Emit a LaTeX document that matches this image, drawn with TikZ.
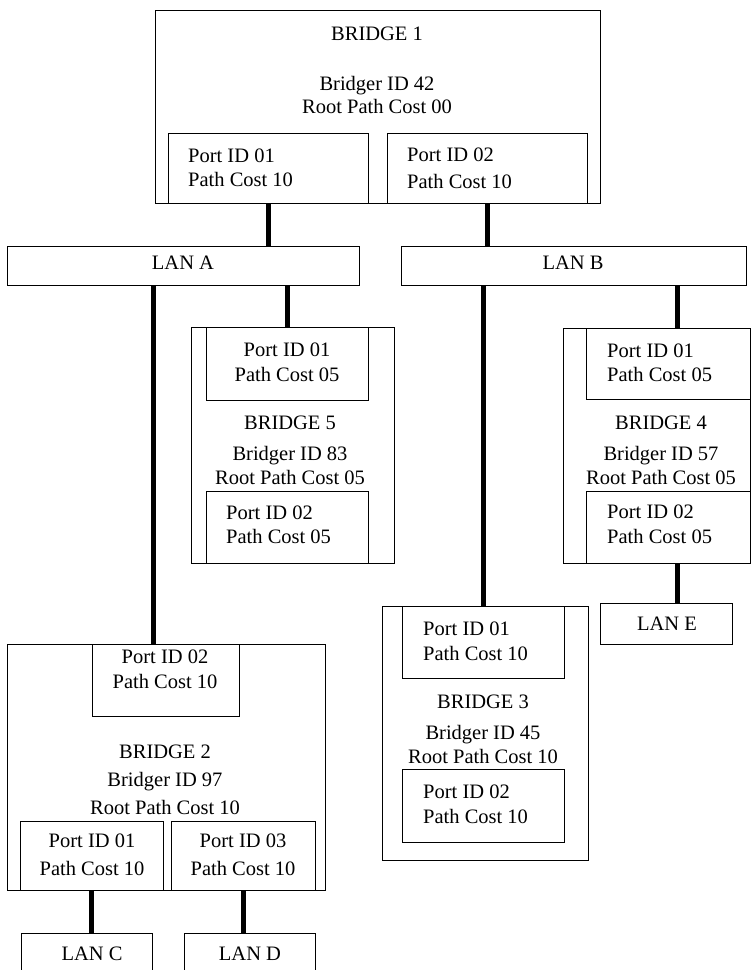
\documentclass[tikz,border=0pt]{standalone}
\usepackage{fontspec}
\setmainfont{Liberation Serif}
\tikzset{
  unit/.style={draw, line width=1pt, inner sep=0pt},
  txt/.style={inner sep=0pt, font=\fontsize{20.5}{24.5}\selectfont},
  link/.style={line width=5pt},
}

\begin{document}
\begin{tikzpicture}[x=1pt, y=-1pt]
    \useasboundingbox (0,0) rectangle (753,970);
    % bridge 1
    \node[unit, minimum width=445pt, minimum height=193pt] (br1) at (377.5,106.5) {};
    \node[unit, minimum width=200pt, minimum height=70pt] (b1p1) at (268,168) {};
    \node[unit, minimum width=200pt, minimum height=70pt] (b1p2) at (487,168) {};
    \node[txt] (br1name) at (377,34) {BRIDGE 1};
    \node[txt, align=center] (br1info) at (377,94.5) {Bridger ID 42\\[-1.5pt]Root Path Cost 00};
    \node[txt, align=left, anchor=west] at (188,168) {Port ID 01\\Path Cost 10};
    \node[txt, align=left, anchor=west] at (407,168.5) {Port ID 02\\[2pt]Path Cost 10};
    % lans
    \node[unit, minimum width=352pt, minimum height=39pt] (lanA) at (183,265.5) {};
    \node[unit, minimum width=345pt, minimum height=39pt] (lanB) at (573.5,265.5) {};
    \node[unit, minimum width=132pt, minimum height=41pt] (lanE) at (666,623.5) {};
    \node[unit, minimum width=131pt, minimum height=41pt] (lanC) at (86.5,953.5) {};
    \node[unit, minimum width=131pt, minimum height=41pt] (lanD) at (249.5,953.5) {};
    \node[txt] at (183,263) {LAN A};
    \node[txt] at (573,263) {LAN B};
    \node[txt] at (667,624) {LAN E};
    \node[txt] at (92,954) {LAN C};
    \node[txt] at (250,954) {LAN D};
    % bridge 5
    \node[unit, minimum width=203pt, minimum height=236pt] (br5) at (292.5,445) {};
    \node[unit, minimum width=162pt, minimum height=73pt] (b5p1) at (287,363.5) {};
    \node[unit, minimum width=162pt, minimum height=72pt] (b5p2) at (287,527) {};
    \node[txt, align=center] at (287,362.5) {Port ID 01\\Path Cost 05};
    \node[txt, align=center] at (290,450.5) {BRIDGE 5\\[6pt]Bridger ID 83\\Root Path Cost 05};
    \node[txt, align=left, anchor=west] at (226,525) {Port ID 02\\Path Cost 05};
    % bridge 4
    \node[unit, minimum width=187pt, minimum height=235pt] (br4) at (656.5,445.5) {};
    \node[unit, minimum width=164pt, minimum height=71pt] (b4p1) at (668,363.5) {};
    \node[unit, minimum width=164pt, minimum height=72pt] (b4p2) at (668,527) {};
    \node[txt, align=left, anchor=west] at (607,363) {Port ID 01\\Path Cost 05};
    \node[txt, align=center] at (661,450.5) {BRIDGE 4\\[6.5pt]Bridger ID 57\\Root Path Cost 05};
    \node[txt, align=left, anchor=west] at (607,524.5) {Port ID 02\\Path Cost 05};
    % bridge 3
    \node[unit, minimum width=206pt, minimum height=254pt] (br3) at (485,733) {};
    \node[unit, minimum width=162pt, minimum height=72pt] (b3p1) at (483,642) {};
    \node[unit, minimum width=162pt, minimum height=73pt] (b3p2) at (483,805.5) {};
    \node[txt, align=left, anchor=west] at (423,641.5) {Port ID 01\\Path Cost 10};
    \node[txt, align=center] at (483,729.5) {BRIDGE 3\\[6.5pt]Bridger ID 45\\Root Path Cost 10};
    \node[txt, align=left, anchor=west] at (423,804.5) {Port ID 02\\Path Cost 10};
    % bridge 2
    \node[unit, minimum width=318pt, minimum height=246pt] (br2) at (166,767) {};
    \node[unit, minimum width=147pt, minimum height=72pt] (b2p2) at (165.5,680) {};
    \node[unit, minimum width=143pt, minimum height=69pt] (b2p1) at (91.5,855.5) {};
    \node[unit, minimum width=144pt, minimum height=69pt] (b2p3) at (243,855.5) {};
    \node[txt, align=center] at (165,669.5) {Port ID 02\\Path Cost 10};
    \node[txt, align=center] at (165,780) {BRIDGE 2\\[3.5pt]Bridger ID 97\\[3.5pt]Root Path Cost 10};
    \node[txt, align=center] at (92,855) {Port ID 01\\[3.5pt]Path Cost 10};
    \node[txt, align=center] at (243,855) {Port ID 03\\[3.5pt]Path Cost 10};
    % links
    \coordinate (b2in) at ([xshift=-12.5pt]b2p2.north);
    \coordinate (b4in) at ([xshift=9pt]b4p1.north);
    \coordinate (b4out) at ([xshift=9pt]b4p2.south);
    \draw[link] (b1p1.south) -- (b1p1.south |- lanA.north);
    \draw[link] (b1p2.south) -- (b1p2.south |- lanB.north);
    \draw[link] (b5p1.north |- lanA.south) -- (b5p1.north);
    \draw[link] (b2in |- lanA.south) -- (b2in);
    \draw[link] (b3p1.north |- lanB.south) -- (b3p1.north);
    \draw[link] (b4in |- lanB.south) -- (b4in);
    \draw[link] (b4out) -- (b4out |- lanE.north);
    \draw[link] (b2p1.south) -- (b2p1.south |- lanC.north);
    \draw[link] (b2p3.south) -- (b2p3.south |- lanD.north);
\end{tikzpicture}
\end{document}
